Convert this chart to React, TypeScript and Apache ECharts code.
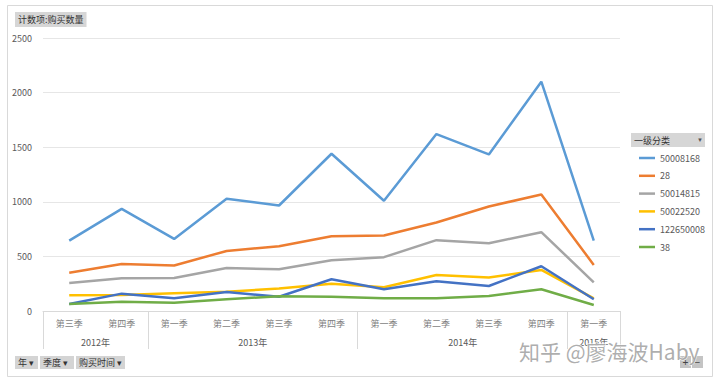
import React, { useEffect, useRef } from "react";
import * as echarts from "echarts";

const quarters = ["第三季", "第四季", "第一季", "第二季", "第三季", "第四季", "第一季", "第二季", "第三季", "第四季", "第一季"];
const years = ["2012年", "2013年", "2014年", "2015年"];
const yearSpans = [2, 4, 4, 1];
const yTicks = [0, 500, 1000, 1500, 2000, 2500];

const seriesNames = ["50008168", "28", "50014815", "50022520", "122650008", "38"];
const s50008168 = [645, 935, 660, 1028, 966, 1440, 1010, 1620, 1434, 2100, 645];
const s28 = [351, 431, 416, 550, 593, 685, 691, 810, 957, 1067, 422];
const s50014815 = [257, 300, 303, 394, 382, 465, 493, 649, 621, 722, 263];
const s50022520 = [144, 146, 162, 177, 205, 250, 217, 330, 306, 376, 116];
const s122650008 = [64, 159, 116, 174, 131, 291, 199, 272, 229, 410, 107];
const s38 = [64, 85, 76, 107, 135, 131, 116, 116, 138, 199, 55];
const seriesValues = [s50008168, s28, s50014815, s50022520, s122650008, s38];
const colors = ["#5B9BD5", "#ED7D31", "#A5A5A5", "#FFC000", "#4472C4", "#70AD47"];

export default function App() {
  const ref = useRef<HTMLDivElement>(null);
  useEffect(() => {
    if (!ref.current) return;
    const chart = echarts.init(ref.current, null, { renderer: "svg" });
    const bounds: number[] = [0];
    const centers: number[] = [];
    const labelMap: Record<string, string> = {};
    let acc = 0;
    yearSpans.forEach((s, i) => {
      const c = acc + s / 2;
      centers.push(c);
      labelMap[String(c)] = years[i];
      acc += s;
      bounds.push(acc);
    });
    const font = "'Microsoft YaHei', 'Noto Sans CJK SC', sans-serif";
    const btn = (x: number, w: number, label: string) => ({
      type: "group",
      children: [
        { type: "rect", shape: { x, y: 356, width: w, height: 13 }, style: { fill: "#d4d4d4" } },
        { type: "text", x: x + 3, y: 362.5, style: { text: label, fontSize: 9, fill: "#333", fontFamily: font, verticalAlign: "middle" } },
      ],
    });
    chart.setOption({
      animation: false,
      backgroundColor: "#fff",
      color: colors,
      textStyle: { fontFamily: font },
      title: {
        text: "计数项:购买数量",
        left: 15,
        top: 12,
        padding: [1, 3],
        backgroundColor: "#d6d6d6",
        textStyle: { fontSize: 9, fontWeight: "normal", color: "#333", fontFamily: font, lineHeight: 13 },
      },
      grid: { left: 43, right: 100, top: 38, bottom: 73 },
      legend: {
        orient: "vertical",
        left: 634,
        top: 147,
        icon: "rect",
        itemWidth: 16,
        itemHeight: 2.5,
        itemGap: 5.8,
        textStyle: { fontSize: 9, color: "#595959", lineHeight: 12, fontFamily: font },
        data: seriesNames,
      },
      xAxis: [
        {
          type: "category",
          data: quarters,
          boundaryGap: true,
          axisLine: { lineStyle: { color: "#d9d9d9" } },
          axisTick: { show: false },
          axisLabel: { fontSize: 9, color: "#7f7f7f", margin: 8, interval: 0 },
        },
        {
          type: "value",
          position: "bottom",
          min: 0,
          max: quarters.length,
          axisLine: { show: false },
          splitLine: { show: false },
          axisTick: { show: true, customValues: bounds, length: 38, lineStyle: { color: "#d9d9d9" } },
          axisLabel: {
            customValues: centers,
            margin: 27,
            fontSize: 9,
            color: "#595959",
            formatter: (v: number) => labelMap[String(v)] || "",
          },
        },
      ],
      yAxis: {
        type: "value",
        min: yTicks[0],
        max: yTicks[yTicks.length - 1],
        interval: 500,
        axisLine: { show: false },
        axisTick: { show: false },
        axisLabel: { fontSize: 9, color: "#595959", margin: 11, formatter: (v: number) => String(v) },
        splitLine: { lineStyle: { color: "#e6e6e6" } },
      },
      series: seriesNames.map((n, i) => ({
        name: n,
        type: "line",
        data: seriesValues[i],
        symbol: "none",
        xAxisIndex: 0,
        lineStyle: { width: 2.5, color: colors[i] },
        itemStyle: { color: colors[i] },
      })),
      graphic: [
        { type: "rect", shape: { x: 7.5, y: 5.5, width: 705, height: 371 }, style: { fill: "none", stroke: "#d9d9d9", lineWidth: 1 }, z: -1 },
        {
          type: "group",
          children: [
            { type: "rect", shape: { x: 631, y: 133, width: 74, height: 14 }, style: { fill: "#d6d6d6" } },
            { type: "text", x: 634, y: 140, style: { text: "一级分类", fontSize: 9, fill: "#333", fontFamily: font, verticalAlign: "middle" } },
            { type: "text", x: 697, y: 140, style: { text: "▼", fontSize: 6, fill: "#555", verticalAlign: "middle" } },
          ],
        },
        btn(15, 23, "年 ▾"),
        btn(40, 34, "季度 ▾"),
        btn(76, 49, "购买时间 ▾"),
        {
          type: "text",
          x: 519,
          y: 351,
          z: 10,
          style: { text: "知乎 @廖海波Haby", fontSize: 21, fill: "rgba(160,160,160,0.85)", fontFamily: "'Noto Sans CJK SC', sans-serif", verticalAlign: "middle", stroke: "#fff", lineWidth: 1 },
        },
        {
          type: "group",
          z: 11,
          children: [
            { type: "rect", shape: { x: 680, y: 356, width: 11, height: 12 }, style: { fill: "#c4c4c4" } },
            { type: "text", x: 685.5, y: 362, style: { text: "+", fontSize: 10, fill: "#444", align: "center", verticalAlign: "middle" } },
            { type: "rect", shape: { x: 692, y: 356, width: 11, height: 12 }, style: { fill: "#c4c4c4" } },
            { type: "text", x: 697.5, y: 362, style: { text: "−", fontSize: 10, fill: "#444", align: "center", verticalAlign: "middle" } },
          ],
        },
      ],
    });
    return () => chart.dispose();
  }, []);
  return <div ref={ref} style={{ position: "fixed", left: 0, top: 0, width: 720, height: 384 }} />;
}
